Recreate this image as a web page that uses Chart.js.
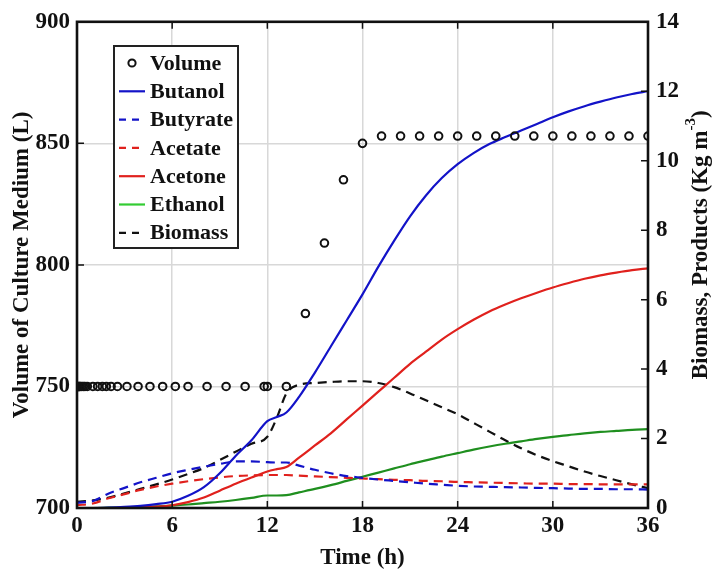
<!DOCTYPE html>
<html>
<head>
<meta charset="utf-8">
<script src="https://cdn.jsdelivr.net/npm/chart.js@4"></script>
<style>
  body { margin: 0; background: #fff; }
  canvas { display: block; }
</style>
</head>
<body>
<canvas id="fedChart" width="715" height="573"></canvas>
<script>
// volume of culture medium (left axis, L)
const volTime = [0, 0.05, 0.1, 0.15, 0.2, 0.3, 0.4, 0.5, 0.65, 1.0, 1.3, 1.6, 1.85, 2.15, 2.55, 3.15, 3.85, 4.6, 5.4, 6.2, 7.0, 8.2, 9.4, 10.6, 11.8, 12.0, 13.2,
    14.4, 15.6, 16.8, 18.0, 19.2, 20.4, 21.6, 22.8, 24.0, 25.2, 26.4, 27.6, 28.8, 30.0, 31.2, 32.4, 33.6, 34.8, 36.0];
const volValue = [750, 750, 750, 750, 750, 750, 750, 750, 750, 750, 750, 750, 750, 750, 750, 750, 750, 750, 750, 750, 750, 750, 750, 750, 750, 750, 750,
    780, 809, 835, 850, 853, 853, 853, 853, 853, 853, 853, 853, 853, 853, 853, 853, 853, 853, 853];

// simulated concentrations (right axis, Kg m-3)
const timeH = [0, 1, 2, 3, 4, 5, 6, 7, 8, 9, 10, 11, 12, 12.6, 13.2, 14, 15, 16, 17, 18, 19, 20, 21, 22, 23, 24, 25, 26, 27, 28, 29, 30, 31, 32, 33, 34, 35, 36];
const butanol = [0, 0, 0.01, 0.03, 0.06, 0.11, 0.18, 0.35, 0.6, 1.0, 1.5, 1.95, 2.5, 2.62, 2.75,
    3.2, 3.9, 4.65, 5.4, 6.15, 6.95, 7.7, 8.4, 9.0, 9.5, 9.9, 10.22, 10.48, 10.68, 10.87, 11.06, 11.25, 11.42, 11.57, 11.7, 11.82, 11.92, 12.0];
const butyrate = [0.15, 0.2, 0.42, 0.58, 0.74, 0.87, 1.0, 1.1, 1.19, 1.27, 1.34, 1.34, 1.32, 1.31, 1.31,
    1.22, 1.1, 1.0, 0.92, 0.87, 0.82, 0.78, 0.74, 0.7, 0.67, 0.64, 0.62, 0.61, 0.6, 0.59, 0.58, 0.57, 0.56, 0.55, 0.55, 0.54, 0.54, 0.53];
const acetate = [0.08, 0.13, 0.28, 0.4, 0.52, 0.62, 0.7, 0.77, 0.83, 0.88, 0.92, 0.94, 0.95, 0.95, 0.95,
    0.93, 0.91, 0.89, 0.87, 0.85, 0.83, 0.81, 0.8, 0.78, 0.77, 0.75, 0.74, 0.73, 0.72, 0.71, 0.7, 0.7, 0.69, 0.69, 0.68, 0.68, 0.68, 0.68];
const acetone = [0, 0, 0, 0.01, 0.02, 0.04, 0.08, 0.17, 0.3, 0.5, 0.7, 0.88, 1.05, 1.12, 1.18,
    1.45, 1.8, 2.15, 2.55, 2.95, 3.35, 3.75, 4.15, 4.5, 4.85, 5.15, 5.42, 5.66, 5.86, 6.04, 6.2, 6.35, 6.48, 6.6, 6.7, 6.78, 6.85, 6.9];
const ethanol = [0, 0, 0.01, 0.02, 0.03, 0.05, 0.07, 0.1, 0.14, 0.18, 0.23, 0.29, 0.36, 0.36, 0.37,
    0.45, 0.55, 0.66, 0.78, 0.9, 1.02, 1.14, 1.26, 1.37, 1.48, 1.58, 1.68, 1.77, 1.85, 1.92, 1.99, 2.05, 2.1, 2.15, 2.19, 2.22, 2.25, 2.27];
const biomass = [0.18, 0.22, 0.3, 0.42, 0.55, 0.68, 0.82, 0.98, 1.15, 1.38, 1.62, 1.85, 2.05, 2.6, 3.3,
    3.55, 3.6, 3.63, 3.65, 3.65, 3.6, 3.48, 3.3, 3.1, 2.9, 2.7, 2.45, 2.2, 1.95, 1.72, 1.52, 1.35, 1.2, 1.05, 0.92, 0.8, 0.68, 0.57];

const serif = "'Times New Roman', 'Liberation Serif', serif";
const BLUE = '#1313c8';
const RED = '#e0211d';
const GREEN = '#1f8f1f';

function pts(xs, ys) {
    return xs.map((x, i) => ({ x: x, y: ys[i] }));
}

function curve(label, values, color, dashed, legendColor) {
    return {
        label: label,
        data: pts(timeH, values),
        yAxisID: 'y1',
        borderColor: color,
        legendColor: legendColor || color,
        borderWidth: 2.2,
        borderDash: dashed ? [9, 6] : [],
        pointRadius: 0,
        fill: false,
        cubicInterpolationMode: 'monotone'
    };
}

const datasets = [
    {
        label: 'Volume',
        data: pts(volTime, volValue),
        yAxisID: 'y',
        showLine: false,
        pointStyle: 'circle',
        pointRadius: 3.8,
        pointBorderWidth: 2,
        pointBorderColor: '#111',
        pointBackgroundColor: 'rgba(0,0,0,0)'
    },
    curve('Butanol', butanol, BLUE, false),
    curve('Butyrate', butyrate, BLUE, true),
    curve('Acetate', acetate, RED, true),
    curve('Acetone', acetone, RED, false),
    curve('Ethanol', ethanol, GREEN, false, '#33cc33'),
    curve('Biomass', biomass, '#111', true)
];

// frame, inward ticks, boxed legend and right title
const matlabDeco = {
    id: 'matlabDeco',
    afterDraw(chart) {
        const ctx = chart.ctx;
        const a = chart.chartArea;
        const sx = chart.scales.x, sy = chart.scales.y, sr = chart.scales.y1;
        const tl = 7;
        ctx.save();
        ctx.strokeStyle = '#111';
        ctx.lineWidth = 1.5;
        ctx.beginPath();
        sx.ticks.forEach(t => {
            const px = sx.getPixelForValue(t.value);
            ctx.moveTo(px, a.bottom); ctx.lineTo(px, a.bottom - tl);
            ctx.moveTo(px, a.top); ctx.lineTo(px, a.top + tl);
        });
        sy.ticks.forEach(t => {
            const py = sy.getPixelForValue(t.value);
            ctx.moveTo(a.left, py); ctx.lineTo(a.left + tl, py);
        });
        sr.ticks.forEach(t => {
            const py = sr.getPixelForValue(t.value);
            ctx.moveTo(a.right, py); ctx.lineTo(a.right - tl, py);
        });
        ctx.stroke();

        ctx.lineWidth = 2.6;
        ctx.strokeRect(a.left, a.top, a.right - a.left, a.bottom - a.top);

        // legend box
        const bx = 114, by = 46, bw = 124, bh = 202;
        ctx.fillStyle = '#fff';
        ctx.fillRect(bx, by, bw, bh);
        ctx.lineWidth = 2;
        ctx.strokeStyle = '#222';
        ctx.strokeRect(bx, by, bw, bh);
        ctx.font = 'bold 22px ' + serif;
        ctx.textAlign = 'left';
        ctx.textBaseline = 'middle';
        chart.data.datasets.forEach((ds, i) => {
            const yy = by + 17 + i * 28.3;
            if (ds.showLine === false) {
                ctx.beginPath();
                ctx.lineWidth = 2;
                ctx.strokeStyle = '#111';
                ctx.arc(bx + 18, yy, 3.6, 0, Math.PI * 2);
                ctx.stroke();
            } else {
                ctx.beginPath();
                ctx.lineWidth = 2.2;
                ctx.strokeStyle = ds.legendColor;
                ctx.setLineDash(ds.borderDash.length ? [7, 6] : []);
                ctx.moveTo(bx + 5, yy);
                ctx.lineTo(bx + 31, yy);
                ctx.stroke();
                ctx.setLineDash([]);
            }
            ctx.fillStyle = '#111';
            ctx.fillText(ds.label, bx + 36, yy + 1);
        });

        // right axis title with superscript
        const main = 'Biomass, Products (Kg m';
        const sup = '-3';
        const tail = ')';
        const f1 = 'bold 23px ' + serif, f2 = 'bold 15px ' + serif;
        ctx.font = f1;
        const w1 = ctx.measureText(main).width, w3 = ctx.measureText(tail).width;
        ctx.font = f2;
        const w2 = ctx.measureText(sup).width;
        const total = w1 + w2 + w3;
        ctx.translate(701, (a.top + a.bottom) / 2 - 20);
        ctx.rotate(-Math.PI / 2);
        ctx.fillStyle = '#111';
        ctx.textBaseline = 'middle';
        let cx = -total / 2;
        ctx.font = f1;
        ctx.fillText(main, cx, 0);
        cx += w1;
        ctx.font = f2;
        ctx.fillText(sup, cx, -10);
        cx += w2;
        ctx.font = f1;
        ctx.fillText(tail, cx, 0);
        ctx.restore();
    }
};

const tickFont = { family: serif, weight: 'bold', size: 23 };

new Chart(document.getElementById('fedChart'), {
    type: 'line',
    data: { datasets: datasets },
    options: {
        responsive: false,
        animation: false,
        devicePixelRatio: 1,
        layout: { padding: { top: 17, left: 0, right: 0, bottom: 0 } },
        plugins: {
            legend: { display: false },
            tooltip: { enabled: false }
        },
        scales: {
            x: {
                type: 'linear',
                min: 0,
                max: 36,
                afterFit: s => { s.height = 65; },
                grid: { color: '#d8d8d8', lineWidth: 1.5, drawTicks: false },
                border: { display: false },
                ticks: { stepSize: 6, color: '#111', font: tickFont, padding: 4, maxRotation: 0 },
                title: {
                    display: true,
                    text: 'Time (h)',
                    color: '#111',
                    font: { family: serif, weight: 'bold', size: 23 },
                    padding: { top: 0, bottom: 1 }
                }
            },
            y: {
                position: 'left',
                min: 700,
                max: 900,
                afterFit: s => { s.width = 77; },
                grid: { color: '#d8d8d8', lineWidth: 1.5, drawTicks: false },
                border: { display: false },
                ticks: { stepSize: 50, color: '#111', font: tickFont, padding: 7 },
                title: {
                    display: true,
                    text: 'Volume of Culture Medium (L)',
                    color: '#111',
                    font: { family: serif, weight: 'bold', size: 23 },
                    padding: { top: 8, bottom: 0 }
                }
            },
            y1: {
                position: 'right',
                min: 0,
                max: 14,
                afterFit: s => { s.width = 67; },
                grid: { display: false, drawTicks: false },
                border: { display: false },
                ticks: { stepSize: 2, color: '#111', font: tickFont, padding: 8 }
            }
        }
    },
    plugins: [matlabDeco]
});
</script>
</body>
</html>
